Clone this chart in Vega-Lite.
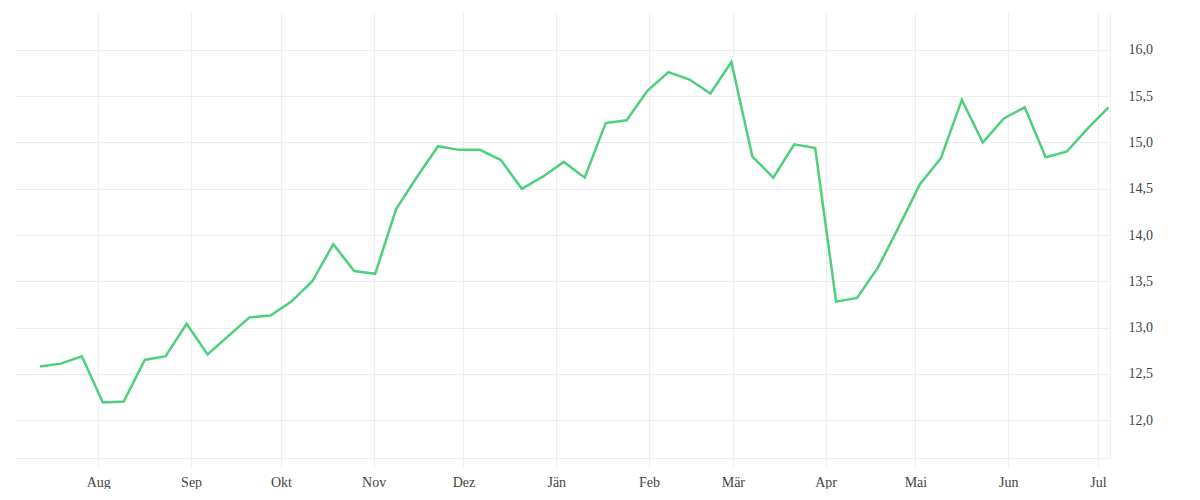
{
  "$schema": "https://vega.github.io/schema/vega-lite/v6.json",
  "description": "Weekly line, Jul 2021 - Jul 2022",
  "width": 1095,
  "height": 446,
  "padding": {"left": 15, "top": 12, "right": 0, "bottom": 0},
  "background": "#ffffff",
  "data": {
    "values": [
      {"date": "2021-07-12T12:00:00Z", "value": 12.58},
      {"date": "2021-07-19T12:00:00Z", "value": 12.61},
      {"date": "2021-07-26T12:00:00Z", "value": 12.69},
      {"date": "2021-08-02T12:00:00Z", "value": 12.19},
      {"date": "2021-08-09T12:00:00Z", "value": 12.2},
      {"date": "2021-08-16T12:00:00Z", "value": 12.65},
      {"date": "2021-08-23T12:00:00Z", "value": 12.69},
      {"date": "2021-08-30T12:00:00Z", "value": 13.04},
      {"date": "2021-09-06T12:00:00Z", "value": 12.71},
      {"date": "2021-09-13T12:00:00Z", "value": 12.91},
      {"date": "2021-09-20T12:00:00Z", "value": 13.11},
      {"date": "2021-09-27T12:00:00Z", "value": 13.13},
      {"date": "2021-10-04T12:00:00Z", "value": 13.28},
      {"date": "2021-10-11T12:00:00Z", "value": 13.5},
      {"date": "2021-10-18T12:00:00Z", "value": 13.9},
      {"date": "2021-10-25T12:00:00Z", "value": 13.61},
      {"date": "2021-11-01T12:00:00Z", "value": 13.58},
      {"date": "2021-11-08T12:00:00Z", "value": 14.28},
      {"date": "2021-11-15T12:00:00Z", "value": 14.63},
      {"date": "2021-11-22T12:00:00Z", "value": 14.96},
      {"date": "2021-11-29T12:00:00Z", "value": 14.92},
      {"date": "2021-12-06T12:00:00Z", "value": 14.92},
      {"date": "2021-12-13T12:00:00Z", "value": 14.81},
      {"date": "2021-12-20T12:00:00Z", "value": 14.5},
      {"date": "2021-12-27T12:00:00Z", "value": 14.63},
      {"date": "2022-01-03T12:00:00Z", "value": 14.79},
      {"date": "2022-01-10T12:00:00Z", "value": 14.62},
      {"date": "2022-01-17T12:00:00Z", "value": 15.21},
      {"date": "2022-01-24T12:00:00Z", "value": 15.24},
      {"date": "2022-01-31T12:00:00Z", "value": 15.56},
      {"date": "2022-02-07T12:00:00Z", "value": 15.76},
      {"date": "2022-02-14T12:00:00Z", "value": 15.68},
      {"date": "2022-02-21T12:00:00Z", "value": 15.53},
      {"date": "2022-02-28T12:00:00Z", "value": 15.87},
      {"date": "2022-03-07T12:00:00Z", "value": 14.85},
      {"date": "2022-03-14T12:00:00Z", "value": 14.62},
      {"date": "2022-03-21T12:00:00Z", "value": 14.98},
      {"date": "2022-03-28T12:00:00Z", "value": 14.94},
      {"date": "2022-04-04T12:00:00Z", "value": 13.28},
      {"date": "2022-04-11T12:00:00Z", "value": 13.32},
      {"date": "2022-04-18T12:00:00Z", "value": 13.65},
      {"date": "2022-04-25T12:00:00Z", "value": 14.09},
      {"date": "2022-05-02T12:00:00Z", "value": 14.55},
      {"date": "2022-05-09T12:00:00Z", "value": 14.83},
      {"date": "2022-05-16T12:00:00Z", "value": 15.46},
      {"date": "2022-05-23T12:00:00Z", "value": 15.0},
      {"date": "2022-05-30T12:00:00Z", "value": 15.26},
      {"date": "2022-06-06T12:00:00Z", "value": 15.38},
      {"date": "2022-06-13T12:00:00Z", "value": 14.84},
      {"date": "2022-06-20T12:00:00Z", "value": 14.9},
      {"date": "2022-06-27T12:00:00Z", "value": 15.15},
      {"date": "2022-07-04T12:00:00Z", "value": 15.38}
    ]
  },
  "mark": {"type": "line", "color": "#4cd07c", "strokeWidth": 2.5, "strokeJoin": "miter"},
  "encoding": {
    "x": {
      "field": "date",
      "type": "temporal",
      "title": null,
      "scale": {
        "type": "utc",
        "domain": [
          {"year": 2021, "month": 7, "date": 4, "hours": 4, "utc": true},
          {"year": 2022, "month": 7, "date": 5, "hours": 0, "utc": true}
        ]
      },
      "axis": {
        "tickCount": {"interval": "month", "step": 1},
        "labelExpr": "['Jän','Feb','Mär','Apr','Mai','Jun','Jul','Aug','Sep','Okt','Nov','Dez'][utcmonth(datum.value)]",
        "grid": true,
        "gridColor": "#eeeeee",
        "domainColor": "#eeeeee",
        "tickColor": "#eeeeee",
        "tickSize": 10,
        "labelPadding": 7,
        "labelFont": "Liberation Serif",
        "labelFontSize": 14,
        "labelColor": "#444444"
      }
    },
    "y": {
      "field": "value",
      "type": "quantitative",
      "title": null,
      "scale": {"domain": [11.59, 16.41], "nice": false, "zero": false},
      "axis": {
        "orient": "right",
        "values": [12, 12.5, 13, 13.5, 14, 14.5, 15, 15.5, 16],
        "labelExpr": "replace(format(datum.value, '.1f'), '.', ',')",
        "grid": true,
        "gridColor": "#eeeeee",
        "domainColor": "#eeeeee",
        "ticks": false,
        "labelPadding": 18,
        "labelFont": "Liberation Serif",
        "labelFontSize": 14,
        "labelColor": "#444444"
      }
    }
  },
  "config": {"view": {"stroke": null}}
}
